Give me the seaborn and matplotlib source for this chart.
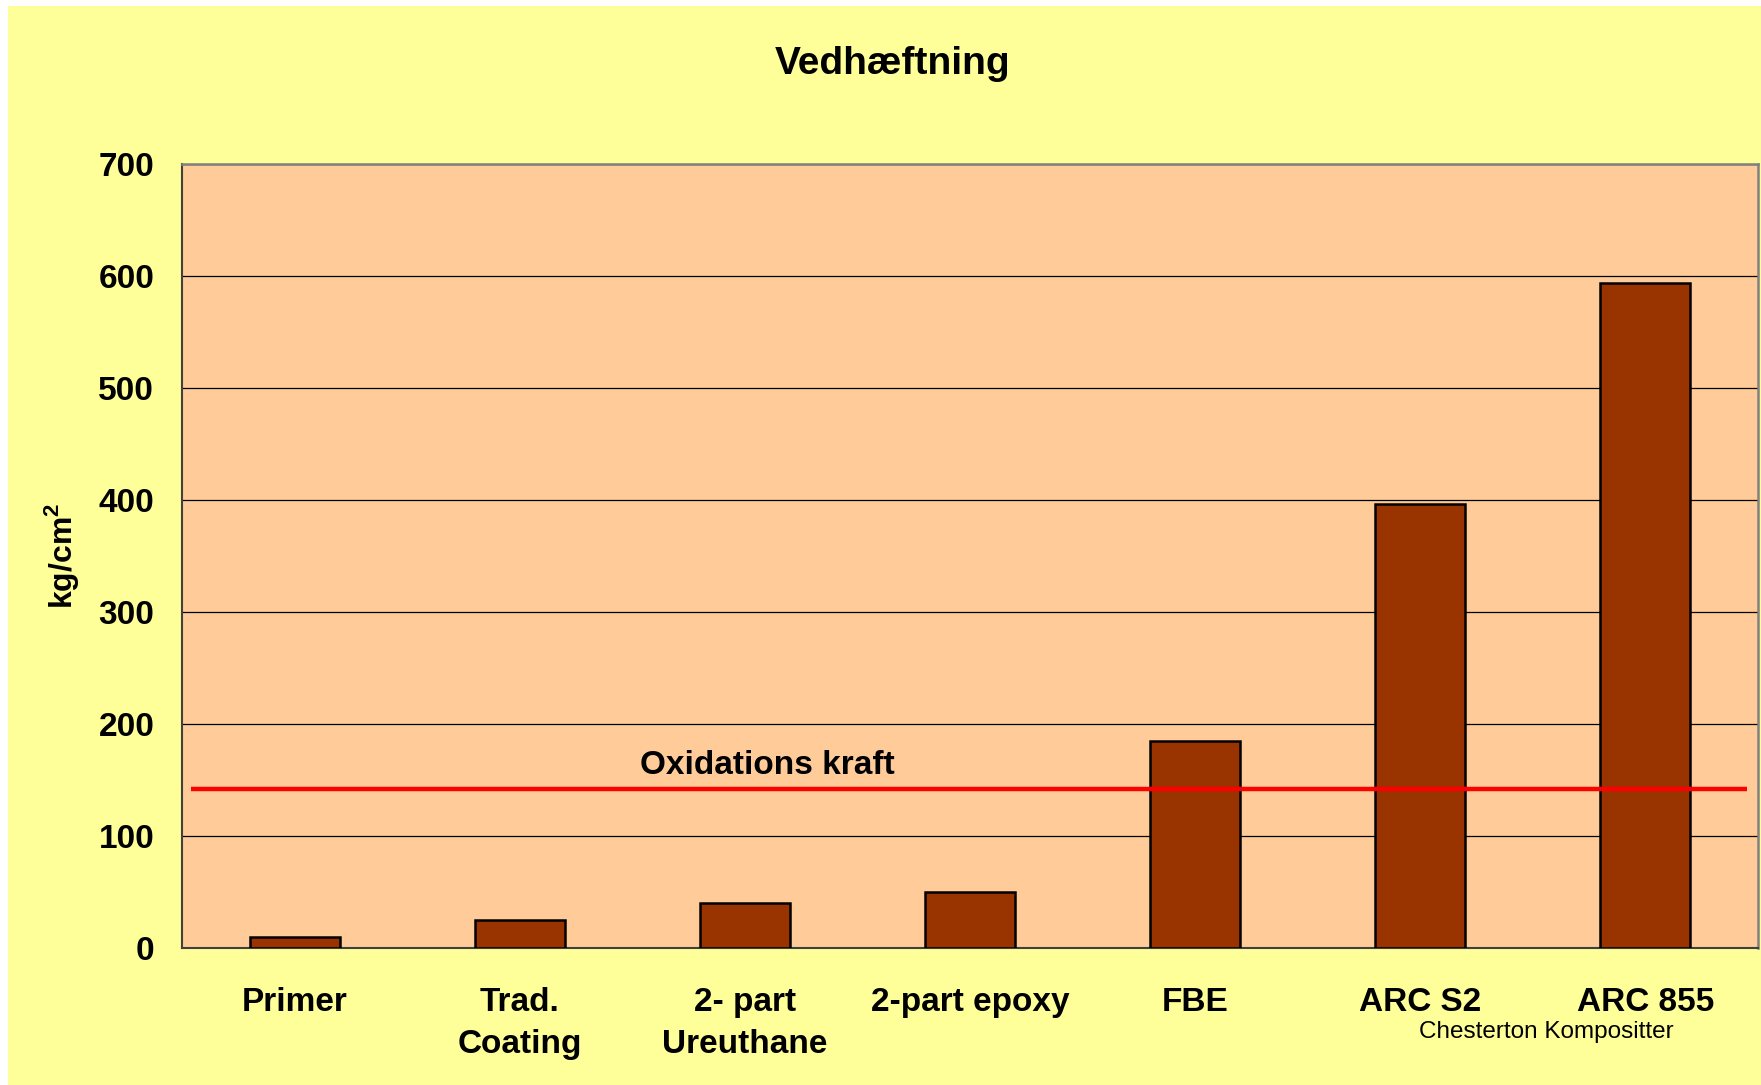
import pandas as pd
import matplotlib.pyplot as plt
import seaborn as sns
from matplotlib.patches import Rectangle

# data
categories = ['Primer', 'Trad.\nCoating', '2- part\nUreuthane', '2-part epoxy', 'FBE', 'ARC S2', 'ARC 855']
adhesion = [10, 25, 40, 50, 185, 396, 594]
oxidation_force = 142
y_ticks = [0, 100, 200, 300, 400, 500, 600, 700]

df = pd.DataFrame({'Coating': categories, 'Adhesion': adhesion})

sns.set_style('white')
plt.rcParams['font.family'] = ['Liberation Sans', 'DejaVu Sans']
plt.rcParams['mathtext.fontset'] = 'custom'
plt.rcParams['mathtext.bf'] = 'Liberation Sans:bold'
plt.rcParams['mathtext.rm'] = 'Liberation Sans'
plt.rcParams['text.color'] = 'black'
plt.rcParams['xtick.color'] = 'black'
plt.rcParams['ytick.color'] = 'black'

fig = plt.figure(figsize=(17.61, 10.85), dpi=100)
fig.patch.set_facecolor('white')
# yellow chart area with a thin white margin on the top/left
fig.patches.append(Rectangle((8 / 1761, 0), 1 - 8 / 1761, 1 - 6 / 1085,
                             transform=fig.transFigure, facecolor='#FFFF99',
                             edgecolor='none', zorder=-5))

ax = fig.add_axes([0.1034, 0.1263, 0.8949, 0.7225])
ax.set_facecolor('#FFCC99')

sns.barplot(data=df, x='Coating', y='Adhesion', color='#993300', width=0.4,
            edgecolor='black', linewidth=1.8, saturation=1, ax=ax, zorder=3)

# oxidation force reference line
ax.hlines(oxidation_force, -0.46, 6.45, color='#FF0000', linewidth=3.2, zorder=4)
ax.text(2.1, oxidation_force + 21, 'Oxidations kraft', ha='center', va='center',
        fontsize=24, fontweight='bold', zorder=5)

ax.set_xlim(-0.5, 6.5)
ax.set_ylim(0, 700)
ax.set_yticks(y_ticks)
ax.yaxis.grid(True, color='black', linewidth=0.9)
ax.set_axisbelow(True)

ax.set_xlabel('')
ax.set_ylabel('')
ax.tick_params(axis='x', which='major', length=0, pad=28, labelsize=24)
ax.set_xticks([i - 0.5 for i in range(len(categories) + 1)], minor=True)
ax.tick_params(axis='x', which='minor', length=7, width=1, color='#404040', direction='out')
ax.tick_params(axis='y', length=8, width=1, color='#404040', direction='out', pad=12, labelsize=24)
for lbl in ax.get_xticklabels() + ax.get_yticklabels():
    lbl.set_fontweight('bold')
for lbl in ax.get_xticklabels():
    lbl.set_linespacing(1.45)

for side in ['left', 'bottom']:
    ax.spines[side].set_color('#404040')
    ax.spines[side].set_linewidth(1.5)
for side in ['top', 'right']:
    ax.spines[side].set_visible(True)
    ax.spines[side].set_color('#808080')
    ax.spines[side].set_linewidth(1.8)

fig.text(0.507, 0.941, 'Vedhæftning', ha='center', va='center', fontsize=28, fontweight='bold')
fig.text(0.035, 0.4876, r'kg/cm$^\mathbf{2}$', rotation=90, ha='center', va='center',
         fontsize=23, fontweight='bold')
fig.text(0.878, 0.049, 'Chesterton Kompositter', ha='center', va='center', fontsize=17.5)

fig.savefig('out.png', dpi=100)
